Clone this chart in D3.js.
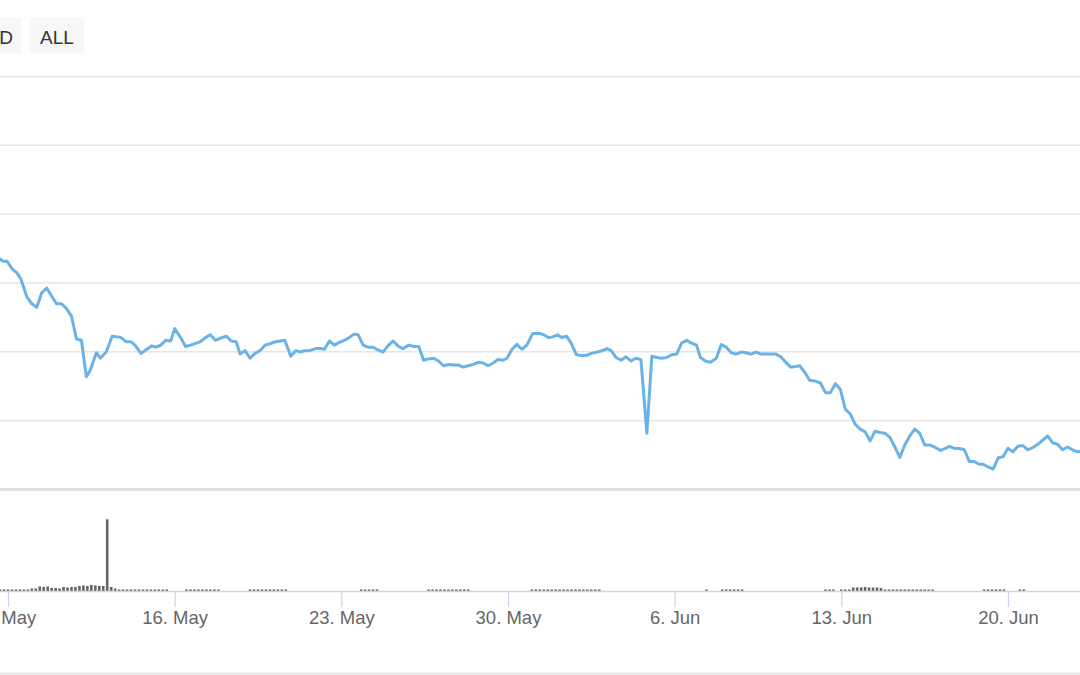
<!DOCTYPE html>
<html>
<head>
<meta charset="utf-8">
<script src="https://cdn.jsdelivr.net/npm/d3@7"></script>
<style>
  html, body { margin: 0; padding: 0; background: #fff; }
  svg { display: block; font-family: "Liberation Sans", Arial, Helvetica, sans-serif; }
</style>
</head>
<body>
<svg id="chart" width="1080" height="675"></svg>
<script>
// ---- DATA ----
// hours since 9 May 2022 00:00 UTC
const priceHours = [-8,-5,-1,4,9,13,19,24,29,34,39,44,49,54,59,64,69,74,79,83,89,93,99,105,110,114,119,124,128,134,140,145,149,154,159,164,168,174,179,184,190,194,199,204,209,214,220,225,230,234,239,244,249,254,259,264,270,274,279,285,290,295,299,304,310,315,319,324,329,334,339,344,349,353,358,363,368,373,378,383,388,393,398,404,409,414,419,424,429,434,439,444,449,454,459,464,469,474,479,484,489,494,499,503,508,513,518,523,529,536,540,545,549,554,558,563,568,573,578,583,588,594,599,604,608,613,618,623,628,633,638,644,649,654,659,664,669,674,679,684,689,694,698,703,708,714,719,724,729,734,739,744,749,754,759,764,769,774,779,784,789,794,798,803,808,813,819,824,829,834,839,844,849,854,859,864,869,874,879,884,889,894,899,904,909,914,919,924,929,934,940,945,949,954,959,964,969,974,979,983,988,993,998,1003,1008,1013,1018,1023,1028,1034,1039,1044,1048,1053,1058,1063,1068,1073,1078,1084];
const priceValues = [33.4,33.1,33.1,32.0,31.4,30.5,27.9,26.9,26.4,28.5,29.2,28.0,26.9,26.9,26.2,25.1,21.8,21.6,16.3,17.3,19.8,19.0,19.9,22.2,22.1,22.0,21.4,21.4,20.9,19.7,20.3,20.8,20.6,20.9,21.6,21.5,23.3,22.0,20.7,20.9,21.2,21.4,22.0,22.4,21.6,21.9,22.2,21.5,21.4,19.6,20.1,19.0,19.7,20.1,20.9,21.1,21.4,21.5,21.6,19.3,20.1,19.9,20.1,20.1,20.4,20.4,20.3,21.5,20.9,21.3,21.6,22.0,22.5,22.4,20.9,20.6,20.6,20.2,19.9,20.8,21.5,20.8,20.4,20.9,20.7,20.7,18.7,18.9,19.0,18.6,17.9,18.1,18.0,18.0,17.7,17.9,18.1,18.4,18.3,17.9,18.3,18.8,18.7,19.0,20.3,21.0,20.3,20.9,22.6,22.6,22.4,22.0,22.1,22.4,22.0,22.2,21.1,19.5,19.4,19.4,19.7,19.9,20.1,20.4,20.1,19.1,18.7,19.2,18.6,19.0,18.8,8.1,19.3,19.1,19.0,19.1,19.5,19.6,21.2,21.6,21.2,20.9,19.1,18.6,18.4,19.0,21.0,20.6,19.8,19.6,19.9,19.8,19.6,19.9,19.6,19.6,19.6,19.6,19.2,18.4,17.7,17.8,17.9,17.0,15.8,15.7,15.4,14.0,14.0,15.3,14.5,11.6,10.9,9.4,8.7,8.3,7.0,8.4,8.2,8.1,7.5,6.1,4.6,6.4,7.7,8.7,8.1,6.4,6.4,6.1,5.6,5.9,6.2,5.9,5.9,5.7,4.0,4.0,3.6,3.6,3.2,2.9,4.5,4.7,5.9,5.4,6.2,6.3,5.7,6.1,6.6,7.2,7.7,6.7,6.5,5.7,6.1,5.7,5.4,5.6];

// volume: one bar every 4 hours starting at hour -8
const volumeStartHour = -8;
const volumeStepHours = 4;
const volumeValues = [
  1.5,1.5,1.5,1.5,1.5,1.5,1.5,1.5,
  2.5,2.5,4.5,4,4.5,3,3,2.5,4,3.5,4,4,5,5.5,5,6,5.5,5,5,
  71,4,2.5,
  1.5,1.5,1.5,1.5,1.5,1.5,1.5,1.5,1.5,1.5,1.5,1.5,1.5,
  0,0,0,0,
  1.5,1.5,1.5,1.5,1.5,1.5,1.5,1.5,1.5,
  0,0,0,0,0,0,0,
  1.5,1.5,1.5,1.5,1.5,1.5,1.5,1.5,1.5,1.5,
  0,0,0,0,0,0,0,0,0,0,0,0,0,0,0,0,0,0,
  1.5,1.5,1.5,1.5,1.5,
  0,0,0,0,0,0,0,0,0,0,0,0,
  1.5,1.5,1.5,1.5,1.5,1.5,1.5,1.5,1.5,1.5,1.5,
  0,0,0,0,0,0,0,0,0,0,0,0,0,0,0,
  1.5,1.5,1.5,1.5,1.5,1.5,1.5,1.5,1.5,1.5,1.5,1.5,1.5,1.5,1.5,1.5,1.5,1.5,
  0,0,0,0,0,0,0,0,0,0,0,0,0,0,0,0,0,0,0,0,0,0,0,0,0,0,
  1.5,
  0,0,0,
  1.5,1.5,1.5,1.5,1.5,1.5,
  0,0,0,0,0,0,0,0,0,0,0,0,0,0,0,0,0,0,0,0,
  1.5,1.5,1.5,
  0,
  1.5,1.5,1.5,
  3.5,3.5,3.5,4,3.5,3.5,3.5,3,
  1.5,1.5,1.5,1.5,1.5,1.5,1.5,1.5,1.5,1.5,1.5,1.5,1.5,
  0,0,0,0,0,0,0,0,0,0,0,0,
  1.5,1.5,1.5,1.5,1.5,1.5,
  0,0,0,
  1.5,1.5,
  0,0,0,0,0,0,0,0,0,0,0,0,0,0
];

const xTickDates = ["2022-05-09","2022-05-16","2022-05-23","2022-05-30","2022-06-06","2022-06-13","2022-06-20"];
const priceTicks = [0,10,20,30,40,50,60];
const rangeButtons = ["YTD","ALL"];

// ---- CHART ----
const W = 1080, H = 675;
const base = Date.UTC(2022, 4, 9);
const hourToDate = h => new Date(base + h * 3600000);

const svg = d3.select("#chart");

const x = d3.scaleUtc()
  .domain([hourToDate(-8.06), hourToDate(1080.6)])
  .range([0, W]);

const priceTop = 76, priceBottom = 489;
const y = d3.scaleLinear().domain([0, 60]).range([priceBottom, priceTop]);

const volTop = 490, volBottom = 591;
const yVol = d3.scaleLinear().domain([0, 100]).range([volBottom, volTop]);

// range selector buttons
const btnG = svg.append("g");
rangeButtons.forEach((label, i) => {
  const bx = -33 + i * 63;
  btnG.append("rect")
    .attr("x", bx).attr("y", 17.5).attr("width", 54).attr("height", 36.5)
    .attr("rx", 3).attr("fill", "#f7f7f7");
  btnG.append("text")
    .attr("x", bx + 27).attr("y", 43.5)
    .attr("text-anchor", "middle")
    .attr("font-size", 19).attr("fill", "#333")
    .text(label);
});

// grid lines
const gridAxis = d3.axisLeft(y).tickValues(priceTicks).tickSize(-W).tickFormat("");
const gg = svg.append("g").attr("class", "grid").call(gridAxis);
gg.select(".domain").remove();
gg.selectAll(".tick line")
  .attr("stroke", d => d === 0 ? "#e0e0e0" : "#e6e6e6")
  .attr("stroke-width", d => d === 0 ? 3 : 1.5);

// bottom border line
svg.append("line")
  .attr("x1", 0).attr("x2", W).attr("y1", 673.5).attr("y2", 673.5)
  .attr("stroke", "#e6e6e6").attr("stroke-width", 2);

// clip
svg.append("clipPath").attr("id", "clip")
  .append("rect").attr("x", 0).attr("y", 0).attr("width", W).attr("height", H);

// volume bars
const volData = volumeValues.map((v, i) => ({ t: hourToDate(volumeStartHour + i * volumeStepHours), v }))
  .filter(d => d.v > 0);
svg.append("g").attr("clip-path", "url(#clip)")
  .selectAll("rect").data(volData).join("rect")
  .attr("x", d => x(d.t) - 1.3)
  .attr("width", 2.6)
  .attr("y", d => yVol(d.v))
  .attr("height", d => volBottom - yVol(d.v))
  .attr("fill", "#666");

// x axis
const xAxis = d3.axisBottom(x)
  .tickValues(xTickDates.map(s => new Date(s + "T00:00:00Z")))
  .tickSize(16)
  .tickPadding(6)
  .tickFormat(d3.utcFormat("%-d. %b"));
const xg = svg.append("g").attr("transform", `translate(0,${volBottom})`).call(xAxis);
xg.select(".domain").attr("stroke", "#ccd6eb").attr("stroke-width", 1.5).attr("d", `M0,0.5H${W}`);
xg.selectAll(".tick line").attr("stroke", "#ccd6eb").attr("stroke-width", 1.2);
xg.selectAll(".tick text")
  .attr("fill", "#666").attr("font-size", 18.5)
  .attr("font-family", "\"Liberation Sans\", Arial, sans-serif")
  .attr("y", 18.5).attr("dy", "0.8em");

// price line
const priceData = priceHours.map((h, i) => ({ t: hourToDate(h), v: priceValues[i] }));
svg.append("path")
  .datum(priceData)
  .attr("clip-path", "url(#clip)")
  .attr("fill", "none")
  .attr("stroke", "#6bb3e6")
  .attr("stroke-width", 3)
  .attr("stroke-linejoin", "round")
  .attr("stroke-linecap", "round")
  .attr("d", d3.line().x(d => x(d.t)).y(d => y(d.v)));
</script>
</body>
</html>
